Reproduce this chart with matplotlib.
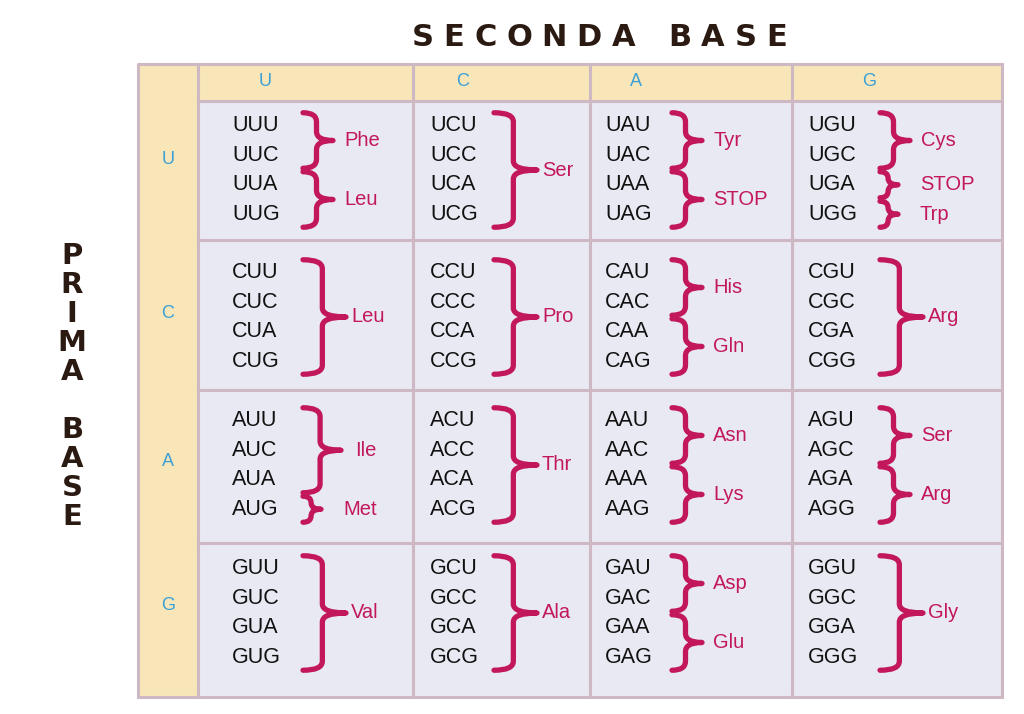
import matplotlib
matplotlib.use('Agg')
import matplotlib.pyplot as plt
from matplotlib.path import Path
from matplotlib.patches import PathPatch, Rectangle

bases = ['U', 'C', 'A', 'G']

# one list per first base (row); each cell = second base (column)
# groups are (amino acid, number of consecutive codons, third base U->G)
code_U = [[('Phe', 2), ('Leu', 2)], [('Ser', 4)], [('Tyr', 2), ('STOP', 2)],
          [('Cys', 2), ('STOP', 1), ('Trp', 1)]]
code_C = [[('Leu', 4)], [('Pro', 4)], [('His', 2), ('Gln', 2)], [('Arg', 4)]]
code_A = [[('Ile', 3), ('Met', 1)], [('Thr', 4)], [('Asn', 2), ('Lys', 2)],
          [('Ser', 2), ('Arg', 2)]]
code_G = [[('Val', 4)], [('Ala', 4)], [('Asp', 2), ('Glu', 2)], [('Gly', 4)]]
genetic_code = [code_U, code_C, code_A, code_G]

title_top = 'SECONDA BASE'
title_left = 'PRIMA BASE'

# layout (pixels)
W, H = 1024, 714
col_edges = [198, 413, 590, 792, 1002]
row_edges = [101, 240, 390, 543, 697]
left, top = 138, 64
head_x = [265, 463, 636, 869]
head_y = [160, 313, 461, 605]
codon_dx = [34, 17, 15, 16]
brace_dx = [105, 81, 82, 88]
block_cy = [170, 317, 465, 613]
step = 29.5
brace_w = {1: 18, 2: 30, 3: 38, 4: 43}
label_gap = {1: 22, 2: 11, 3: 14, 4: 5}

yellow = '#F8E6B9'
lavender = '#E9E9F3'
grid_col = '#CDB8C4'
red = '#C2185B'
blue = '#3C9FD6'
brown = '#2A1A12'


def draw_brace(ax, x, y0, y1, w):
    a = w * 0.45
    m = (y0 + y1) / 2
    q = min(9, (y1 - y0) / 4)
    verts = [(x, y0), (x + a, y0), (x + a, y0 + q),
             (x + a, m - q),
             (x + a, m), (x + w, m),
             (x + a, m), (x + a, m + q),
             (x + a, y1 - q),
             (x + a, y1), (x, y1)]
    codes = [Path.MOVETO, Path.CURVE3, Path.CURVE3, Path.LINETO,
             Path.CURVE3, Path.CURVE3, Path.CURVE3, Path.CURVE3,
             Path.LINETO, Path.CURVE3, Path.CURVE3]
    ax.add_patch(PathPatch(Path(verts, codes), fc='none', ec=red, lw=3.8,
                           capstyle='round', joinstyle='round'))


fig = plt.figure(figsize=(W / 100, H / 100), dpi=100)
ax = fig.add_axes([0, 0, 1, 1])
ax.set_xlim(0, W)
ax.set_ylim(H, 0)
ax.axis('off')

# table background
ax.add_patch(Rectangle((left, top), col_edges[-1] - left, row_edges[-1] - top,
                       fc=yellow, ec='none'))
ax.add_patch(Rectangle((col_edges[0], row_edges[0]), col_edges[-1] - col_edges[0],
                       row_edges[-1] - row_edges[0], fc=lavender, ec='none'))
for x in col_edges:
    ax.plot([x, x], [top, row_edges[-1]], color=grid_col, lw=2.2)
for y in row_edges:
    ax.plot([col_edges[0], col_edges[-1]], [y, y], color=grid_col, lw=2.2)
ax.plot([left, left, col_edges[-1]], [row_edges[-1], top, top], color=grid_col, lw=2.2)
ax.plot([left, col_edges[0]], [row_edges[-1], row_edges[-1]], color=grid_col, lw=2.2)

# headers
for b, hx in zip(bases, head_x):
    ax.text(hx, 82, b, ha='center', va='center', color=blue, fontsize=13,
            family='Liberation Sans')
for b, hy in zip(bases, head_y):
    ax.text(168, hy, b, ha='center', va='center', color=blue, fontsize=13,
            family='Liberation Sans')

# codons, braces and amino acids
for i, first in enumerate(bases):
    for j, second in enumerate(bases):
        x0 = col_edges[j]
        ys = [block_cy[i] + (k - 1.5) * step for k in range(4)]
        for k, third in enumerate(bases):
            ax.text(x0 + codon_dx[j], ys[k], first + second + third, ha='left', va='center',
                    fontsize=15.5, color='#111111', family='Liberation Sans')
        k = 0
        for aa, n in genetic_code[i][j]:
            y0 = ys[k] - 13
            y1 = ys[k + n - 1] + 13
            w = brace_w[n]
            bx = x0 + brace_dx[j]
            draw_brace(ax, bx, y0, y1, w)
            ax.text(bx + w + label_gap[n], (y0 + y1) / 2, aa, ha='left', va='center',
                    fontsize=14.5, color=red, family='Liberation Sans')
            k += n

# title on top, letter spaced
renderer = fig.canvas.get_renderer()
widths = []
for ch in title_top:
    if ch == ' ':
        widths.append(14)
        continue
    t = ax.text(0, 0, ch, fontsize=22, family='DejaVu Sans', weight='bold')
    widths.append(t.get_window_extent(renderer).width)
    t.remove()
track = (375 - sum(widths)) / (len(title_top) - 1)
x = 412
for ch, wd in zip(title_top, widths):
    ax.text(x + wd / 2, 38, ch, ha='center', va='center', fontsize=22,
            family='DejaVu Sans', weight='bold', color=brown)
    x += wd + track

# vertical title on the left
for k, ch in enumerate(title_left):
    ax.text(72, 256 + k * 29, ch, ha='center', va='center', fontsize=21,
            family='DejaVu Sans', weight='bold', color=brown)

fig.savefig('out.png', dpi=100, facecolor='white')
